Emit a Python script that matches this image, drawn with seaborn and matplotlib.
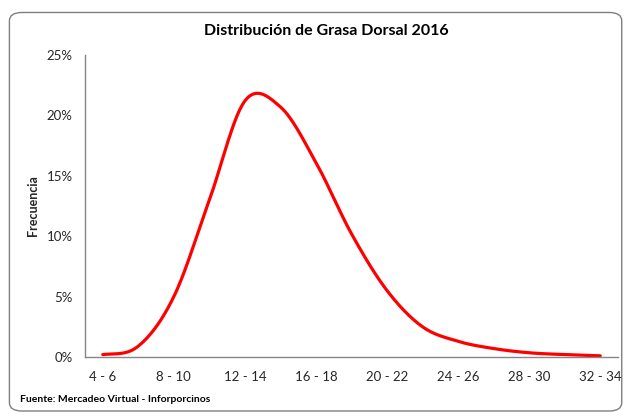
import numpy as np
import pandas as pd
import matplotlib
matplotlib.use("Agg")
import matplotlib.pyplot as plt
from matplotlib.patches import FancyBboxPatch
from matplotlib.ticker import PercentFormatter
import seaborn as sns

# backfat classes (mm) and share of pigs in each class
categories = ['4 - 6', '6 - 8', '8 - 10', '10 - 12', '12 - 14', '14 - 16', '16 - 18',
              '18 - 20', '20 - 22', '22 - 24', '24 - 26', '26 - 28', '28 - 30',
              '30 - 32', '32 - 34']
frequency = [0.002, 0.009, 0.050, 0.130, 0.212, 0.207, 0.161, 0.102,
             0.055, 0.025, 0.013, 0.007, 0.0035, 0.002, 0.001]
shown_labels = categories[::2]


def smooth(y, n=30):
    # Excel-style smoothed line (Catmull-Rom through the points)
    y = np.asarray(y, dtype=float)
    p = np.concatenate([[y[0]], y, [y[-1]]])
    xs, ys = [], []
    for i in range(len(y) - 1):
        p0, p1, p2, p3 = p[i], p[i + 1], p[i + 2], p[i + 3]
        t = np.linspace(0, 1, n, endpoint=False)
        c1 = p1 + (p2 - p0) / 6
        c2 = p2 - (p3 - p1) / 6
        b = (1 - t) ** 3 * p1 + 3 * (1 - t) ** 2 * t * c1 + 3 * (1 - t) * t ** 2 * c2 + t ** 3 * p2
        xs.append(i + t)
        ys.append(b)
    xs.append([len(y) - 1])
    ys.append([y[-1]])
    return np.concatenate(xs), np.concatenate(ys)


sx, sy = smooth(frequency)
df = pd.DataFrame({'pos': sx, 'freq': sy})

sns.set_style("white")
plt.rcParams['font.family'] = ['Lato', 'DejaVu Sans']

fig = plt.figure(figsize=(6.28, 4.16), dpi=100)
border = FancyBboxPatch((0.015, 0.012), 0.975, 0.958, boxstyle="round,pad=0,rounding_size=0.02",
                        transform=fig.transFigure, facecolor='none', edgecolor='#7f7f7f',
                        linewidth=1.0, zorder=-1)
fig.patches.append(border)

ax = fig.add_axes([85 / 628, (416 - 357) / 416, (618 - 85) / 628, (357 - 55) / 416])
ax.patch.set_alpha(0)
sns.lineplot(data=df, x='pos', y='freq', color='#ff0000', linewidth=2.3, ax=ax)

ax.set_xlim(-0.5, len(categories) - 0.5)
ax.set_ylim(0, 0.25)
ax.set_yticks(np.arange(0, 0.26, 0.05))
ax.yaxis.set_major_formatter(PercentFormatter(1.0, decimals=0))

ax.set_xticks(np.arange(0, len(categories), 2))
ax.set_xticklabels(shown_labels)
ax.set_xticks(np.arange(-0.5, len(categories), 2), minor=True)
ax.tick_params(axis='x', which='major', length=0, pad=10, labelsize=9.5, colors='#262626')
ax.tick_params(axis='x', which='minor', length=5, width=1, color='#868686', direction='out')
ax.tick_params(axis='y', length=5, width=1, color='#868686', direction='out',
               labelsize=9.5, labelcolor='#262626', pad=4)

for side in ['top', 'right']:
    ax.spines[side].set_visible(False)
for side in ['left', 'bottom']:
    ax.spines[side].set_color('#868686')
    ax.spines[side].set_linewidth(1.0)

ax.set_xlabel('')
ax.set_ylabel('Frecuencia', fontsize=9, fontweight='bold', labelpad=5)

fig.text(0.52, 0.925, 'Distribución de Grasa Dorsal 2016', ha='center', va='center',
         fontsize=11.5, fontweight='bold', color='#000000')
fig.text(0.032, 0.04, 'Fuente: Mercadeo Virtual - Inforporcinos', ha='left', va='center',
         fontsize=7.5, fontweight='bold', color='#000000')

fig.savefig('out.png', dpi=100)
